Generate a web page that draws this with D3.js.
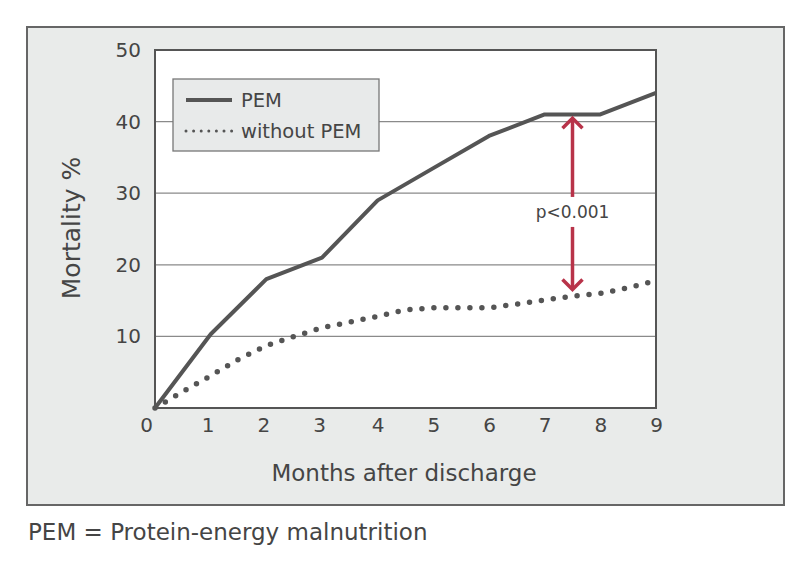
<!DOCTYPE html>
<html><head><meta charset="utf-8">
<script src="https://cdn.jsdelivr.net/npm/d3@7"></script>
<style>
body{margin:0;background:#fff;}
svg text{font-family:"DejaVu Sans", sans-serif;fill:#454545;}
</style></head>
<body><svg id="c" width="803" height="569"></svg>
<script>
const months = [0,1,2,3,4,5,6,7,8,9];
const pem = [0,10.3,18,21,29,33.5,38,41,41,44];
const withoutMonths = [0,0.5,1,1.5,2,2.5,3,3.5,4,4.5,5,5.5,6,6.5,7,7.5,8,8.5,9];
const withoutPem = [0,2.3,4.5,6.8,8.7,10,11.2,12,12.8,13.7,14,14,14,14.5,15.1,15.6,16,16.8,17.8];
const yTicks = [10,20,30,40,50];
const xTicks = [0,1,2,3,4,5,6,7,8,9];
const seriesNames = ["PEM","without PEM"];
const annotation = {month:7.5, top:40.6, bottom:16.4, label:"p<0.001"};

const svg = d3.select("#c");
const L=155,R=656,T=50,B=408;
const x = d3.scaleLinear().domain([0,9]).range([L,R]);
const y = d3.scaleLinear().domain([0,50]).range([B,T]);

// outer frame
svg.append("rect").attr("x",27).attr("y",27).attr("width",757).attr("height",478)
  .attr("fill","#e9ebea").attr("stroke","#666").attr("stroke-width",2);
// plot bg
svg.append("rect").attr("x",L).attr("y",T).attr("width",R-L).attr("height",B-T).attr("fill","#fff");
// grid
svg.append("g").selectAll("line").data(yTicks.filter(d=>d<50)).join("line")
  .attr("x1",L).attr("x2",R).attr("y1",d=>y(d)).attr("y2",d=>y(d))
  .attr("stroke","#8a8a8a").attr("stroke-width",1.3);

// axes labels
const yAxis = d3.axisLeft(y).tickValues(yTicks).tickSize(0).tickPadding(14);
const gy = svg.append("g").attr("transform",`translate(${L},0)`).call(yAxis);
gy.select(".domain").remove();
gy.selectAll("text").style("font-size","20px").style("font-family","'DejaVu Sans'").attr("fill","#454545");
const xAxis = d3.axisBottom(x).tickValues(xTicks).tickSize(0).tickPadding(10);
const gx = svg.append("g").attr("transform",`translate(0,${B})`).call(xAxis);
gx.select(".domain").remove();
gx.selectAll("text").style("font-size","20px").style("font-family","'DejaVu Sans'").attr("fill","#454545");
gx.selectAll(".tick").filter(d=>d===0).select("text").attr("dx",-9);
gx.selectAll(".tick").filter(d=>d>=1&&d<=3).select("text").attr("dx",-3);

// plot border
svg.append("rect").attr("x",L).attr("y",T).attr("width",R-L).attr("height",B-T)
  .attr("fill","none").attr("stroke","#555").attr("stroke-width",2);

// lines
const line = d3.line();
svg.append("path").attr("d",line(months.map((m,i)=>[x(m),y(pem[i])])))
  .attr("fill","none").attr("stroke","#555").attr("stroke-width",4).attr("stroke-linejoin","round");
svg.append("path").attr("d",line(withoutMonths.map((m,i)=>[x(m),y(withoutPem[i])])))
  .attr("fill","none").attr("stroke","#555").attr("stroke-width",5.5)
  .attr("stroke-linecap","round").attr("stroke-dasharray","0,12");

// legend
const lg = svg.append("g");
lg.append("rect").attr("x",173).attr("y",79).attr("width",206).attr("height",72)
  .attr("fill","#e8eaea").attr("stroke","#777").attr("stroke-width",1.3);
lg.append("line").attr("x1",186).attr("x2",232).attr("y1",100).attr("y2",100)
  .attr("stroke","#555").attr("stroke-width",4);
lg.append("line").attr("x1",186).attr("x2",234).attr("y1",131).attr("y2",131)
  .attr("stroke","#555").attr("stroke-width",3).attr("stroke-linecap","round").attr("stroke-dasharray","0,7.6");
lg.append("text").attr("x",241).attr("y",100).attr("dy","0.35em").style("font-size","19.5px").text(seriesNames[0]);
lg.append("text").attr("x",241).attr("y",131).attr("dy","0.35em").style("font-size","19.5px").text(seriesNames[1]);

// annotation arrow
const red="#b83349";
const ax=x(annotation.month), ay1=y(annotation.top), ay2=y(annotation.bottom);
const ym=(ay1+ay2)/2+8;
const ag=svg.append("g").attr("stroke",red).attr("stroke-width",3.5).attr("fill","none").attr("stroke-linecap","butt");
ag.append("line").attr("x1",ax).attr("x2",ax).attr("y1",ay1+1).attr("y2",ym-15);
ag.append("line").attr("x1",ax).attr("x2",ax).attr("y1",ym+15).attr("y2",ay2-1);
ag.append("path").attr("d",`M${ax-10},${ay1+11}L${ax},${ay1+1}L${ax+10},${ay1+11}`);
ag.append("path").attr("d",`M${ax-10},${ay2-11}L${ax},${ay2-1}L${ax+10},${ay2-11}`);
svg.append("text").attr("x",ax).attr("y",ym).attr("dy","0.35em").attr("text-anchor","middle")
  .style("font-size","17px").text(annotation.label);

// axis titles
svg.append("text").attr("x",404).attr("y",473).attr("dy","0.35em").attr("text-anchor","middle")
  .style("font-size","23px").text("Months after discharge");
svg.append("text").attr("transform","translate(71,228) rotate(-90)").attr("dy","0.35em").attr("text-anchor","middle")
  .style("font-size","25px").text("Mortality %");
// footer
svg.append("text").attr("x",28).attr("y",532).attr("dy","0.35em")
  .style("font-size","23px").text("PEM = Protein-energy malnutrition");
</script></body></html>
